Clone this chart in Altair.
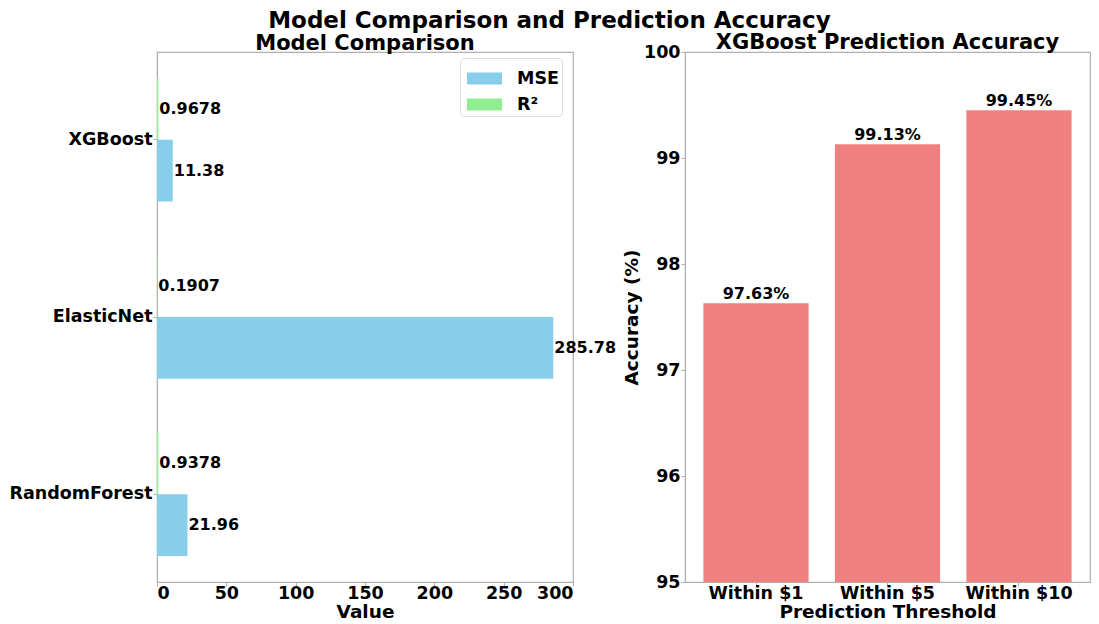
import altair as alt
import pandas as pd

FONT = "DejaVu Sans"

# ---- data ----
models = ["XGBoost", "ElasticNet", "RandomForest"]
mse_values = [11.38, 285.78, 21.96]
r2_values = [0.9678, 0.1907, 0.9378]

thresholds = ["Within $1", "Within $5", "Within $10"]
accuracy = [97.63, 99.13, 99.45]

rows = []
for m, a, b in zip(models, mse_values, r2_values):
    rows.append({"model": m, "metric": "MSE", "value": a, "label": f"{a:.2f}"})
    rows.append({"model": m, "metric": "R²", "value": b, "label": f"{b:.4f}"})
df_left = pd.DataFrame(rows)

df_right = pd.DataFrame({
    "threshold": thresholds,
    "acc": accuracy,
    "label": [f"{v:.2f}%" for v in accuracy],
})

TICK = 17.5
H = 530

# ---- left panel ----
base_l = alt.Chart(df_left).encode(
    y=alt.Y("model:N", sort=models,
            scale=alt.Scale(paddingInner=0.303, paddingOuter=0.146),
            axis=alt.Axis(title=None)),
    yOffset=alt.YOffset("metric:N", scale=alt.Scale(domain=["R²", "MSE"])),
    x=alt.X("value:Q", scale=alt.Scale(domain=[0, 300], nice=False),
            axis=alt.Axis(title="Value", values=[0, 50, 100, 150, 200, 250, 300],
                          labelPadding=-2, titlePadding=1)),
)
bars_l = base_l.mark_bar().encode(
    color=alt.Color("metric:N",
                    scale=alt.Scale(domain=["MSE", "R²"], range=["#87CEEB", "#90EE90"]),
                    legend=alt.Legend(title=None, orient="none", legendX=303, legendY=6,
                                      symbolType="M-1,-0.343H1V0.343H-1Z", symbolSize=1225,
                                      symbolStrokeWidth=0, symbolOffset=4,
                                      labelFontSize=17.5, labelFontWeight="bold", labelFont=FONT,
                                      labelColor="black",
                                      fillColor="white", strokeColor="#dddddd", cornerRadius=4,
                                      padding=3, rowPadding=0, labelOffset=15))
)
text_l = base_l.mark_text(align="left", baseline="middle", dx=1, fontSize=16,
                          fontWeight="bold", font=FONT, color="black").encode(text="label:N")
left = alt.layer(bars_l, text_l).properties(
    width=416, height=H,
    title=alt.Title("Model Comparison", fontSize=21, offset=-2),
)

# ---- right panel ----
base_r = alt.Chart(df_right).encode(
    x=alt.X("threshold:N", sort=thresholds,
            scale=alt.Scale(paddingInner=0.2, paddingOuter=0.14),
            axis=alt.Axis(title="Prediction Threshold", labelAngle=0,
                          labelPadding=-2, titlePadding=1)),
    y=alt.Y("acc:Q", scale=alt.Scale(domain=[95, 100], nice=False, zero=False),
            axis=alt.Axis(title="Accuracy (%)", values=[95, 96, 97, 98, 99, 100], titlePadding=2)),
)
bars_r = base_r.mark_bar(color="#F08080").encode(y2=alt.datum(95))
text_r = base_r.mark_text(baseline="bottom", dy=-1, fontSize=16, fontWeight="bold",
                          font=FONT, color="black").encode(text="label:N")
right = alt.layer(bars_r, text_r).properties(
    width=405, height=H,
    title=alt.Title("XGBoost Prediction Accuracy", fontSize=21, offset=-10),
)

chart = alt.hconcat(left, right, spacing=112, bounds="flush").properties(
    title=alt.Title("Model Comparison and Prediction Accuracy", fontSize=23, anchor="middle", offset=-2),
    padding={"left": 0, "top": 2, "right": 0, "bottom": 0},
).configure(font=FONT).configure_view(
    stroke="#b0b0b0", strokeWidth=1.2
).configure_axis(
    labelFont=FONT, titleFont=FONT, labelFontWeight="bold", titleFontWeight="bold",
    labelFontSize=TICK, titleFontSize=18.5, grid=False, domainColor="#b0b0b0",
    tickColor="#b0b0b0", tickSize=4, labelColor="black", titleColor="black", labelPadding=1,
).configure_title(
    font=FONT, fontWeight="bold", color="black"
)

chart.save("out.html", embed_options={"renderer": "svg", "actions": False})
